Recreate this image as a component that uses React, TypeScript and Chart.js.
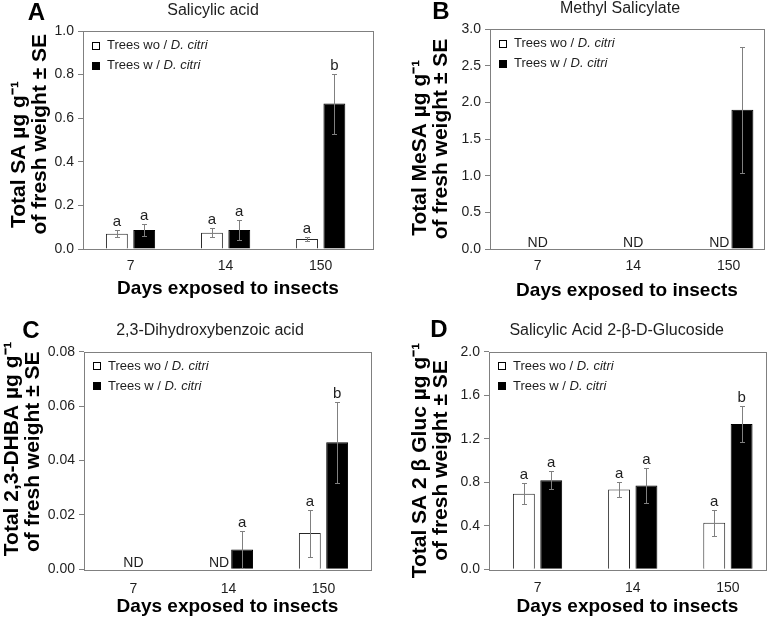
import React, { useEffect, useRef } from 'react';
import { Chart, registerables } from 'chart.js';

Chart.register(...registerables);

const FONT = '"Liberation Sans", Arial, Helvetica, sans-serif';

// ---- shared ----
const categories = ['7', '14', '150'];
const seriesNames = ['Trees wo / ', 'Trees w / '];
const seriesItalic = 'D. citri';
const xAxisTitle = 'Days exposed to insects';

// ---- Panel A: Salicylic acid ----
const saWithout = [0.07, 0.075, 0.046];
const saWithoutErr = [0.017, 0.02, 0.011];
const saWith = [0.087, 0.087, 0.667];
const saWithErr = [0.027, 0.044, 0.138];
const saWithoutLetters = ['a', 'a', 'a'];
const saWithLetters = ['a', 'a', 'b'];

// ---- Panel B: Methyl Salicylate (null = ND) ----
const mesaWithout = [null, null, null];
const mesaWithoutErr = [null, null, null];
const mesaWith = [null, null, 1.9];
const mesaWithErr = [null, null, 0.86];
const mesaWithoutLetters = [null, null, null];
const mesaWithLetters = [null, null, null];

// ---- Panel C: 2,3-Dihydroxybenzoic acid ----
const dhbaWithout = [null, null, 0.0133];
const dhbaWithoutErr = [null, null, 0.0086];
const dhbaWith = [null, 0.0073, 0.0467];
const dhbaWithErr = [null, 0.0068, 0.0148];
const dhbaWithoutLetters = [null, null, 'a'];
const dhbaWithLetters = [null, 'a', 'b'];

// ---- Panel D: Salicylic Acid 2-β-D-Glucoside ----
const glucWithout = [0.694, 0.734, 0.428];
const glucWithoutErr = [0.095, 0.069, 0.119];
const glucWith = [0.819, 0.771, 1.335];
const glucWithErr = [0.083, 0.162, 0.166];
const glucWithoutLetters = ['a', 'a', 'a'];
const glucWithLetters = ['a', 'a', 'b'];

type Panel = {
  letter: string;
  title: string;
  yTitle: string[];
  yMax: number;
  yStep: number;
  decimals: number;
  wo: (number | null)[];
  woErr: (number | null)[];
  w: (number | null)[];
  wErr: (number | null)[];
  woLetters: (string | null)[];
  wLetters: (string | null)[];
  left: number;
  top: number;
  plotLeft: number;
  plotRight: number;
  plotTop: number;
  plotBottom: number;
  xMin: number;
  xMax: number;
  yTitlePad: number;
  xTitlePad: number;
  xTickPad: number;
  titlePos: [number, number];
  letterPos: [number, number];
};

const W = 389;
const H = 310;

const panels: Panel[] = [
  {
    letter: 'A', title: 'Salicylic acid', yTitle: ['Total SA µg g⁻¹     ', '  of fresh weight ± SE'],
    yMax: 1.0, yStep: 0.2, decimals: 1,
    wo: saWithout, woErr: saWithoutErr, w: saWith, wErr: saWithErr,
    woLetters: saWithoutLetters, wLetters: saWithLetters,
    left: 0, top: 0, plotLeft: 83, plotRight: 373, plotTop: 31, plotBottom: 249,
    xMin: -0.5, xMax: 2.55, yTitlePad: 8.5, xTitlePad: 11, xTickPad: 8.5,
    titlePos: [213, 10.5], letterPos: [36.5, 13.5],
  },
  {
    letter: 'B', title: 'Methyl Salicylate', yTitle: ['Total MeSA µg g⁻¹   ', 'of fresh weight ± SE'],
    yMax: 3.0, yStep: 0.5, decimals: 1,
    wo: mesaWithout, woErr: mesaWithoutErr, w: mesaWith, wErr: mesaWithErr,
    woLetters: mesaWithoutLetters, wLetters: mesaWithLetters,
    left: 389, top: 0, plotLeft: 101, plotRight: 375, plotTop: 29, plotBottom: 249,
    xMin: -0.5, xMax: 2.37, yTitlePad: 21, xTitlePad: 9.7, xTickPad: 8.5,
    titlePos: [231, 8.5], letterPos: [52, 12],
  },
  {
    letter: 'C', title: '2,3-Dihydroxybenzoic acid', yTitle: ['    Total 2,3-DHBA µg g⁻¹', '   of fresh weight ± SE'],
    yMax: 0.08, yStep: 0.02, decimals: 2,
    wo: dhbaWithout, woErr: dhbaWithoutErr, w: dhbaWith, wErr: dhbaWithErr,
    woLetters: dhbaWithoutLetters, wLetters: dhbaWithLetters,
    left: 0, top: 310, plotLeft: 84, plotRight: 371, plotTop: 41.7, plotBottom: 259.3,
    xMin: -0.52, xMax: 2.5, yTitlePad: 2, xTitlePad: 3, xTickPad: 11.5,
    titlePos: [210, 20.5], letterPos: [31, 21],
  },
  {
    letter: 'D', title: 'Salicylic Acid 2-β-D-Glucoside', yTitle: ['Total SA 2 β Gluc µg g⁻¹', 'of fresh weight ± SE'],
    yMax: 2.0, yStep: 0.4, decimals: 1,
    wo: glucWithout, woErr: glucWithoutErr, w: glucWith, wErr: glucWithErr,
    woLetters: glucWithoutLetters, wLetters: glucWithLetters,
    left: 389, top: 310, plotLeft: 100, plotRight: 377, plotTop: 41.7, plotBottom: 259.3,
    xMin: -0.51, xMax: 2.4, yTitlePad: 21, xTitlePad: 3, xTickPad: 10,
    titlePos: [227.7, 20.5], letterPos: [50, 20.8],
  },
];

const GRAY = '#808080';
const TEXT = '#1e1e1e';

function makeOverlay(p: Panel) {
  return {
    id: 'overlay' + p.letter,
    afterDatasetsDraw(chart: any) {
      const { ctx, chartArea } = chart;
      const yScale = chart.scales.y;
      const errs = [p.woErr, p.wErr];
      const vals = [p.wo, p.w];
      const lets = [p.woLetters, p.wLetters];
      ctx.save();
      for (let d = 0; d < 2; d++) {
        const meta = chart.getDatasetMeta(d);
        meta.data.forEach((bar: any, i: number) => {
          const v = vals[d][i];
          const e = errs[d][i];
          if (v == null) return;
          const x = Math.round(bar.x) + 0.5;
          let topY = yScale.getPixelForValue(v);
          if (e != null) {
            const yHi = Math.round(yScale.getPixelForValue(v + e)) + 0.5;
            const yLo = Math.round(yScale.getPixelForValue(v - e)) + 0.5;
            ctx.strokeStyle = GRAY;
            ctx.lineWidth = 1;
            ctx.beginPath();
            ctx.moveTo(x, yHi); ctx.lineTo(x, yLo);
            ctx.moveTo(x - 2.5, yHi); ctx.lineTo(x + 2.5, yHi);
            ctx.moveTo(x - 2.5, yLo); ctx.lineTo(x + 2.5, yLo);
            ctx.stroke();
            topY = yHi;
          }
          const l = lets[d][i];
          if (l) {
            ctx.fillStyle = TEXT;
            ctx.font = `15px ${FONT}`;
            ctx.textAlign = 'center';
            ctx.textBaseline = 'alphabetic';
            ctx.fillText(l, bar.x, topY - 5);
          }
        });
      }
      const xScale = chart.scales.x;
      const blackMeta = chart.getDatasetMeta(1);
      ctx.fillStyle = TEXT;
      ctx.font = `14px ${FONT}`;
      ctx.textBaseline = 'alphabetic';
      categories.forEach((_, i) => {
        const baseY = chartArea.bottom - 2.5;
        if (p.wo[i] == null && p.w[i] == null) {
          ctx.textAlign = 'center';
          ctx.fillText('ND', xScale.getPixelForValue(i), baseY);
        } else if (p.wo[i] == null) {
          const bar: any = blackMeta.data[i];
          ctx.textAlign = 'right';
          ctx.fillText('ND', bar.x - bar.width / 2 - 2, baseY);
        }
      });
      ctx.restore();
    },
    afterDraw(chart: any) {
      const { ctx, chartArea } = chart;
      ctx.save();
      ctx.strokeStyle = GRAY;
      ctx.lineWidth = 1;
      ctx.strokeRect(
        Math.round(chartArea.left) + 0.5,
        Math.round(chartArea.top) + 0.5,
        Math.round(chartArea.right - chartArea.left),
        Math.round(chartArea.bottom - chartArea.top)
      );
      const fills = ['#ffffff', '#000000'];
      const bx = Math.round(chartArea.left + 9);
      for (let r = 0; r < 2; r++) {
        const cy = chartArea.top + 14.5 + r * 20;
        ctx.fillStyle = fills[r];
        ctx.fillRect(bx, Math.round(cy - 4), 8, 8);
        ctx.strokeStyle = '#000';
        ctx.strokeRect(bx + 0.5, Math.round(cy - 4) + 0.5, 7, 7);
        ctx.fillStyle = TEXT;
        ctx.textAlign = 'left';
        ctx.textBaseline = 'middle';
        ctx.font = `13px ${FONT}`;
        const tx = bx + 15;
        ctx.fillText(seriesNames[r], tx, cy);
        const wNorm = ctx.measureText(seriesNames[r]).width;
        ctx.font = `italic 13px ${FONT}`;
        ctx.fillText(seriesItalic, tx + wNorm, cy);
      }
      ctx.fillStyle = TEXT;
      ctx.textAlign = 'center';
      ctx.textBaseline = 'middle';
      ctx.font = `16px ${FONT}`;
      ctx.fillText(p.title, p.titlePos[0], p.titlePos[1]);
      ctx.fillStyle = '#000';
      ctx.font = `bold 24px ${FONT}`;
      ctx.fillText(p.letter, p.letterPos[0], p.letterPos[1]);
      ctx.restore();
    },
  };
}

function PanelChart({ p }: { p: Panel }) {
  const ref = useRef<HTMLCanvasElement>(null);
  useEffect(() => {
    if (!ref.current) return;
    const toPoints = (arr: (number | null)[]) => categories.map((_, i) => ({ x: i, y: arr[i] }));
    const chart = new Chart(ref.current, {
      type: 'bar',
      data: {
        datasets: [
          {
            label: seriesNames[0] + seriesItalic,
            data: toPoints(p.wo) as any,
            backgroundColor: '#ffffff',
            borderColor: '#262626',
            borderWidth: 1,
            categoryPercentage: 0.575,
            barPercentage: 0.8,
          },
          {
            label: seriesNames[1] + seriesItalic,
            data: toPoints(p.w) as any,
            backgroundColor: '#000000',
            borderColor: '#000000',
            borderWidth: 1,
            categoryPercentage: 0.575,
            barPercentage: 0.8,
          },
        ],
      },
      options: {
        responsive: false,
        animation: false,
        devicePixelRatio: 1,
        layout: {
          padding: { left: 0, top: p.plotTop, right: W - p.plotRight, bottom: 0 },
        },
        plugins: {
          legend: { display: false },
          tooltip: { enabled: false },
          title: { display: false },
        },
        scales: {
          x: {
            type: 'linear',
            offset: false,
            min: p.xMin,
            max: p.xMax,
            grid: { display: false, drawTicks: false },
            border: { display: false },
            ticks: {
              stepSize: 1,
              includeBounds: false,
              autoSkip: false,
              maxRotation: 0,
              padding: p.xTickPad,
              color: TEXT,
              font: { family: FONT, size: 14 },
              callback: (v: any) => (Number.isInteger(Number(v)) ? categories[Number(v)] ?? '' : ''),
            },
            title: {
              display: true,
              text: xAxisTitle,
              color: '#000',
              font: { family: FONT, size: 19, weight: 'bold', lineHeight: 1.05 },
              padding: { top: 0, bottom: p.xTitlePad },
            },
            afterFit: (s: any) => { s.height = H - p.plotBottom; },
          },
          y: {
            min: 0,
            max: p.yMax,
            grid: { drawOnChartArea: false, drawTicks: true, tickLength: 5, color: GRAY },
            border: { display: false },
            ticks: {
              stepSize: p.yStep,
              padding: 4,
              color: TEXT,
              font: { family: FONT, size: 14 },
              callback: (v: any) => Number(v).toFixed(p.decimals),
            },
            title: {
              display: true,
              text: p.yTitle,
              color: '#000',
              font: { family: FONT, size: 21, weight: 'bold', lineHeight: 1.0 },
              padding: { top: p.yTitlePad, bottom: 0 },
            },
            afterFit: (s: any) => { s.width = p.plotLeft; },
          },
        },
      } as any,
      plugins: [makeOverlay(p)],
    });
    return () => chart.destroy();
  }, [p]);
  return (
    <canvas
      ref={ref}
      width={W}
      height={H}
      style={{ position: 'absolute', left: p.left, top: p.top, width: W, height: H }}
    />
  );
}

export default function App() {
  return (
    <div style={{ position: 'absolute', left: 0, top: 0, width: 778, height: 620, background: '#fff' }}>
      {panels.map((p) => (
        <PanelChart key={p.letter} p={p} />
      ))}
    </div>
  );
}
